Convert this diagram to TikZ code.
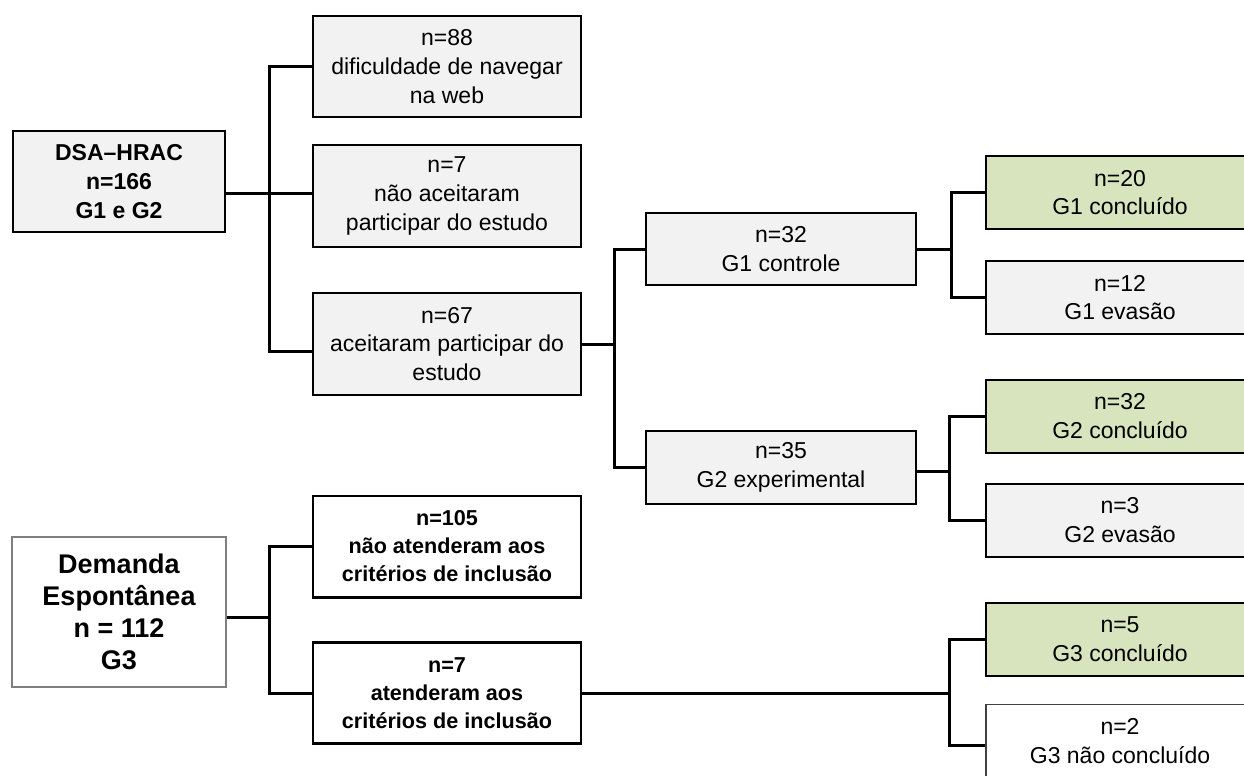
\documentclass[tikz,border=0pt]{standalone}
\usepackage{fontspec}
\setmainfont{Liberation Sans}
\usetikzlibrary{calc}
\definecolor{boxgray}{HTML}{F2F2F2}
\definecolor{boxgreen}{HTML}{D7E4BD}
\definecolor{edgegray}{HTML}{7F7F7F}
\begin{document}
\begin{tikzpicture}[x=0.75pt,y=-0.75pt,
  box/.style={draw=black, line width=1.5pt, fill=boxgray, align=center, inner sep=0pt,
    font=\fontsize{17.25}{21.5}\selectfont},
  midbox/.style={box, minimum width=201pt, minimum height=76pt},
  thirdbox/.style={box, minimum width=202.5pt, minimum height=54.5pt},
  rightbox/.style={box, minimum width=201pt, minimum height=54.75pt},
  greenbox/.style={rightbox, fill=boxgreen},
  whitebold/.style={midbox, fill=white, line width=2pt,
    font=\fontsize{16.2}{21}\selectfont\bfseries},
  conn/.style={draw=black, line width=2.25pt}]
\useasboundingbox (0,0) rectangle (1244,775);
\fill[white] (0,0) rectangle (1244,775);
\clip (0,0) rectangle (1244,775);

% left column
\node[box, minimum width=159pt, minimum height=75.75pt, font=\fontsize{17.25}{21.5}\selectfont\bfseries]
  (dsa) at (119,181.5) {DSA--HRAC\\n=166\\G1 e G2};
\node[box, draw=edgegray, fill=white, minimum width=160.5pt, minimum height=112.5pt,
  font=\fontsize{20.25}{24}\selectfont\bfseries]
  (dem) at (119,612) {Demanda\\Espontânea\\n = 112\\G3};

% middle column
\node[midbox] (b88) at (447,66.5) {n=88\\dificuldade de navegar\\na web};
\node[midbox] (b7) at (447,196) {n=7\\não aceitaram\\participar do estudo};
\node[midbox] (b67) at (447,344) {n=67\\aceitaram participar do\\estudo};
\node[whitebold] (b105) at (447,546.5) {n=105\\não atenderam aos\\critérios de inclusão};
\node[whitebold] (b7b) at (447,693) {n=7\\atenderam aos\\critérios de inclusão};

% third column
\node[thirdbox] (g1c) at (781,249) {n=32\\G1 controle};
\node[thirdbox] (g2e) at (781,467.5) {n=35\\G2 experimental};

% right column
\node[greenbox] (g1con) at (1120,192.5) {n=20\\G1 concluído};
\node[rightbox] (g1ev) at (1120,297.5) {n=12\\G1 evasão};
\node[greenbox] (g2con) at (1120,416) {n=32\\G2 concluído};
\node[rightbox] (g2ev) at (1120,520) {n=3\\G2 evasão};
\node[greenbox] (g3con) at (1120,639.5) {n=5\\G3 concluído};
\node[rightbox, fill=white, draw=black!75, line width=1.2pt] (g3nc) at (1120,741) {n=2\\G3 não concluído};

% junction x positions
\coordinate (j1) at (269,193);
\coordinate (j2) at (614,0);
\coordinate (j3) at (951,0);
\coordinate (j4) at (949,0);
\coordinate (j5) at (269,617);
\coordinate (j6) at (949,0);

% connectors
\draw[conn] (dsa.east|-j1) -- (b7.west|-j1);
\draw[conn] (b88.west) -| (j1|-{$(b67.west)+(0,7)$}) -- ($(b67.west)+(0,7)$);

\draw[conn] (b67.east) -- (b67.east-|j2);
\draw[conn] (g1c.west) -| (j2|-g2e.west) -- (g2e.west);

\draw[conn] (g1c.east) -- (g1c.east-|j3);
\draw[conn] (g1con.west) -| (j3|-g1ev.west) -- (g1ev.west);

\draw[conn] ($(g2e.east)+(0,4)$) -- (j4|-{$(g2e.east)+(0,4)$});
\draw[conn] (g2con.west) -| (j4|-g2ev.west) -- (g2ev.west);

\draw[conn] (dem.east|-j5) -- (j5);
\draw[conn] (b105.west) -| (j5|-b7b.west) -- (b7b.west);

\draw[conn] (b7b.east) -- (b7b.east-|j6);
\draw[conn] (g3con.west) -| (j6|-{$(g3nc.west)+(0,4)$}) -- ($(g3nc.west)+(0,4)$);
\end{tikzpicture}
\end{document}
